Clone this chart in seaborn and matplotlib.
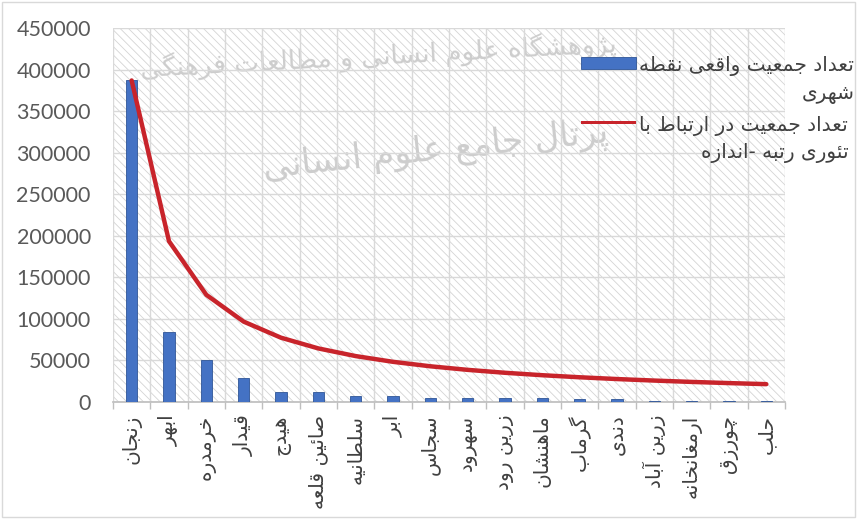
import numpy as np
import pandas as pd
import matplotlib
matplotlib.use("Agg")
import matplotlib.pyplot as plt
from matplotlib.patches import Rectangle
from matplotlib.legend_handler import HandlerPatch
import seaborn as sns

# داده ها: جمعیت نقاط شهری استان زنجان
shahrha = ["زنجان", "ابهر", "خرمدره", "قیدار", "هیدج", "صائین قلعه", "سلطانیه", "ابر", "سجاس",
           "سهرود", "زرین رود", "ماهنشان", "گرماب", "دندی", "زرین آباد", "ارمغانخانه", "چورزق", "حلب"]
jamiat_vaghei = [386851, 84000, 51000, 29000, 12000, 12000, 7000, 7000, 5000,
                 5000, 5000, 5000, 4000, 4000, 1500, 1500, 1500, 1500]
jamiat_rotbe = [386851, 193426, 128950, 96713, 77370, 64475, 55264, 48356, 42983,
                38685, 35168, 32238, 29758, 27632, 25790, 24178, 22756, 21492]
yticks = [0, 50000, 100000, 150000, 200000, 250000, 300000, 350000, 400000, 450000]

onvan_bar = "تعداد جمعیت واقعی نقطه\nشهری"
onvan_khat = "تعداد جمعیت در ارتباط با\nتئوری رتبه -اندازه"
neshan = ["پژوهشگاه علوم انسانی و مطالعات فرهنگی", "پرتال جامع علوم انسانی"]

# شکل های حروف (تنها، پایانی، آغازی، میانی)
HAROOF = {
    'آ': (0xFE81, 0xFE82), 'ا': (0xFE8D, 0xFE8E), 'د': (0xFEA9, 0xFEAA), 'ذ': (0xFEAB, 0xFEAC),
    'ر': (0xFEAD, 0xFEAE), 'ز': (0xFEAF, 0xFEB0), 'ژ': (0xFB8A, 0xFB8B), 'و': (0xFEED, 0xFEEE),
    'ب': (0xFE8F, 0xFE90, 0xFE91, 0xFE92), 'پ': (0xFB56, 0xFB57, 0xFB58, 0xFB59),
    'ت': (0xFE95, 0xFE96, 0xFE97, 0xFE98), 'ث': (0xFE99, 0xFE9A, 0xFE9B, 0xFE9C),
    'ج': (0xFE9D, 0xFE9E, 0xFE9F, 0xFEA0), 'چ': (0xFB7A, 0xFB7B, 0xFB7C, 0xFB7D),
    'ح': (0xFEA1, 0xFEA2, 0xFEA3, 0xFEA4), 'خ': (0xFEA5, 0xFEA6, 0xFEA7, 0xFEA8),
    'س': (0xFEB1, 0xFEB2, 0xFEB3, 0xFEB4), 'ش': (0xFEB5, 0xFEB6, 0xFEB7, 0xFEB8),
    'ص': (0xFEB9, 0xFEBA, 0xFEBB, 0xFEBC), 'ض': (0xFEBD, 0xFEBE, 0xFEBF, 0xFEC0),
    'ط': (0xFEC1, 0xFEC2, 0xFEC3, 0xFEC4), 'ظ': (0xFEC5, 0xFEC6, 0xFEC7, 0xFEC8),
    'ع': (0xFEC9, 0xFECA, 0xFECB, 0xFECC), 'غ': (0xFECD, 0xFECE, 0xFECF, 0xFED0),
    'ف': (0xFED1, 0xFED2, 0xFED3, 0xFED4), 'ق': (0xFED5, 0xFED6, 0xFED7, 0xFED8),
    'ک': (0xFB8E, 0xFB8F, 0xFB90, 0xFB91), 'گ': (0xFB92, 0xFB93, 0xFB94, 0xFB95),
    'ل': (0xFEDD, 0xFEDE, 0xFEDF, 0xFEE0), 'م': (0xFEE1, 0xFEE2, 0xFEE3, 0xFEE4),
    'ن': (0xFEE5, 0xFEE6, 0xFEE7, 0xFEE8), 'ه': (0xFEE9, 0xFEEA, 0xFEEB, 0xFEEC),
    'ی': (0xFBFC, 0xFBFD, 0xFBFE, 0xFBFF), 'ئ': (0xFE89, 0xFE8A, 0xFE8B, 0xFE8C),
}


def farsi_khat(matn):
    natije = []
    for i, c in enumerate(matn):
        if c not in HAROOF:
            natije.append(c)
            continue
        f = HAROOF[c]
        qabli = matn[i - 1] if i > 0 else ''
        badi = matn[i + 1] if i + 1 < len(matn) else ''
        be_qabl = qabli in HAROOF and len(HAROOF[qabli]) == 4
        be_bad = len(f) == 4 and badi in HAROOF
        if be_qabl and be_bad:
            k = f[3]
        elif be_qabl:
            k = f[1]
        elif be_bad:
            k = f[2]
        else:
            k = f[0]
        natije.append(chr(k))
    return ''.join(reversed(natije))


def farsi(matn):
    return "\n".join(farsi_khat(s) for s in matn.split("\n"))


# کلید راهنما کنار خط اول متن
def kelid_bala(ertefa):
    def sazande(legend, orig_handle, xdescent, ydescent, width, height, fontsize):
        y0 = -ydescent + height / 2 + 0.86 * fontsize - ertefa / 2
        return Rectangle((-xdescent, y0), width, ertefa)
    return HandlerPatch(patch_func=sazande)


sns.set_theme(style="white")
plt.rcParams['font.family'] = ['DejaVu Sans']
plt.rcParams['hatch.linewidth'] = 0.6
plt.rcParams['hatch.color'] = '#d4d4d4'

df = pd.DataFrame({'shahr': shahrha, 'vaghei': jamiat_vaghei, 'rotbe': jamiat_rotbe})

fig = plt.figure(figsize=(8.58, 5.2), dpi=100)
ax = fig.add_axes([0.1317, 0.2269, 0.9149 - 0.1317, 0.9462 - 0.2269])
ax.set_facecolor('white')

# پس زمینه هاشور خورده
ax.add_patch(Rectangle((0, 0), 1, 1, transform=ax.transAxes, facecolor='white',
                       edgecolor='#d4d4d4', hatch='\\\\\\\\', lw=0, zorder=0))

# متن واترمارک
ax.text(0.395, 0.925, farsi(neshan[0]), transform=ax.transAxes, fontsize=19, color='#cdcdcd',
        ha='center', va='center', rotation=3, zorder=0.5)
ax.text(0.48, 0.67, farsi(neshan[1]), transform=ax.transAxes, fontsize=25, color='#cdcdcd',
        ha='center', va='center', rotation=6, zorder=0.5)

sns.barplot(data=df, x='shahr', y='vaghei', color='#4472c4', width=0.3, ax=ax,
            edgecolor='#2f5597', linewidth=0.6, saturation=1, zorder=3)
sns.lineplot(data=df, x='shahr', y='rotbe', color='#c8242b', lw=3.2, ax=ax, zorder=4,
             sort=False)

n = len(shahrha)
ax.set_xlim(-0.5, n - 0.5)
ax.set_ylim(0, 450000)
ax.set_yticks(yticks)
ax.set_yticklabels([str(v) for v in yticks], fontfamily='Lato', fontsize=15.5, color='#595959')
ax.tick_params(axis='y', length=0, pad=16)

ax.set_xticks(range(n))
ax.set_xticklabels([farsi(s) for s in shahrha], rotation=90, fontsize=14.5, color='#404040')
ax.tick_params(axis='x', which='major', length=0, pad=9)
ax.set_xticks(np.arange(-0.5, n, 1), minor=True)
ax.tick_params(axis='x', which='minor', length=5, color='#bfbfbf', bottom=True)

ax.grid(axis='y', color='#d9d9d9', lw=1, zorder=1)
ax.grid(axis='x', which='minor', color='#d9d9d9', lw=1, zorder=1)
ax.set_axisbelow(True)
ax.set_xlabel('')
ax.set_ylabel('')
for s in ['top', 'right', 'left']:
    ax.spines[s].set_visible(False)
ax.spines['bottom'].set_color('#bfbfbf')

dasteh = [Rectangle((0, 0), 1, 1, facecolor='#4472c4', edgecolor='#2f5597', lw=0.6),
          Rectangle((0, 0), 1, 1, facecolor='#c8242b', lw=0)]
leg = fig.legend(dasteh, [farsi(onvan_bar), farsi(onvan_khat)], loc='upper left',
                 bbox_to_anchor=(573 / 858, 1 - 48 / 520), frameon=False, fontsize=14.5,
                 handlelength=2.75, handleheight=0.7, handletextpad=0.15, labelspacing=0.6,
                 borderaxespad=0,
                 handler_map={dasteh[0]: kelid_bala(8.5), dasteh[1]: kelid_bala(2.8)})
for t in leg.get_texts():
    t.set_multialignment('right')
    t.set_linespacing(1.5)
    t.set_color('#404040')

# قاب دور نمودار
fig.patches.append(Rectangle((0.002, 0.006), 0.994, 0.99, transform=fig.transFigure,
                             facecolor='none', edgecolor='#d9d9d9', lw=1))

fig.savefig('out.png', dpi=100)
